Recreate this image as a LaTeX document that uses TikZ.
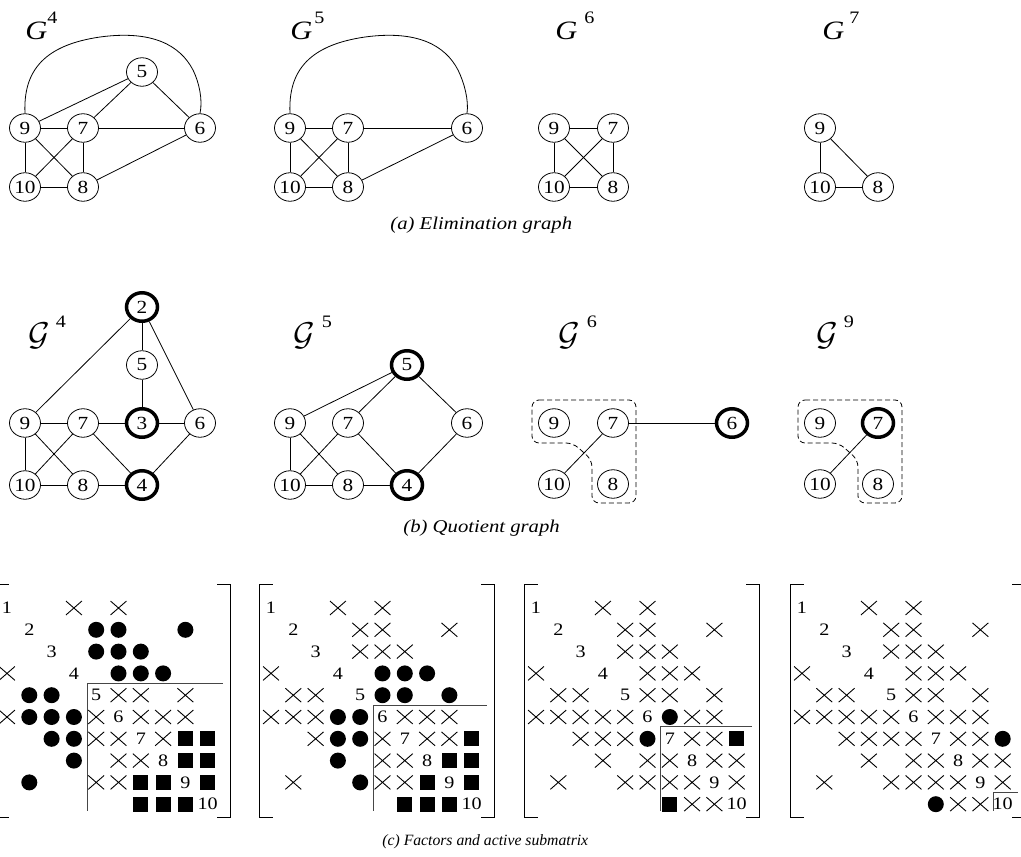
\documentclass[tikz,border=0pt]{standalone}
\usepackage{fontspec}
\setmainfont{Liberation Serif}[FakeStretch=1.15]
\newfontfamily\plainserif{Liberation Serif}
\usepackage{graphicx}
\usetikzlibrary{shapes.misc,shapes.geometric}
\definecolor{boxgray}{RGB}{70,70,70}
\newcommand{\nodefont}{\fontsize{18.5}{18.5}\selectfont}
\newcommand{\matfont}{\fontsize{17.5}{17.5}\selectfont}
\newcommand{\capfont}{\fontsize{18}{18}\selectfont\itshape}
\newcommand{\elimlbl}[2]{{\fontsize{26.5}{26.5}\selectfont\itshape G}\kern#1\raisebox{16pt}{\matfont #2}}
\newcommand{\quotlbl}[2]{\scalebox{3.3}{$\mathcal{G}$}\kern#1\raisebox{18pt}{\matfont #2}}

\begin{document}
\begin{tikzpicture}[x=1pt,y=-1pt,line width=.8pt,
  vtx/.style={ellipse,draw,minimum width=31pt,minimum height=28.5pt,inner sep=0pt,font=\nodefont},
  pivot/.style={vtx,line width=3.5pt},
  crs/.style={cross out,draw,line width=.9pt,minimum width=15pt,minimum height=13pt,inner sep=0pt},
  dotm/.style={circle,fill,minimum size=16pt,inner sep=0pt},
  sqm/.style={rectangle,fill,minimum size=15pt,inner sep=0pt},
  diag/.style={font=\matfont,inner sep=0pt},
  grp/.style={dash pattern=on 5pt off 3pt,rounded corners=7pt},
  lbl/.style={anchor=base west,inner sep=0pt},
  captxt/.style={font=\capfont,anchor=base west,inner sep=0pt}]
\useasboundingbox (0,0) rectangle (1021,857);

% (a) elimination graphs
\foreach \x/\y/\n in {25/128/9,83/128/7,200/128/6,142/72/5,25/187/10,83/187/8}
  \node[vtx] (a4n\n) at (\x,\y) {\n};
\foreach \u/\v in {9/5,7/5,5/6,9/7,7/6,9/10,9/8,7/10,7/8,10/8,8/6}
  \draw (a4n\u) -- (a4n\v);
\draw (a4n9.north) .. controls (23,70) and (45,45) .. (100,37)
  .. controls (152,30) and (180,45) .. (193,70) .. controls (199,82) and (203,100) .. (a4n6.north);
\node[lbl] (a4lbl) at (25,39) {\elimlbl{0pt}{4}};

\foreach \x/\y/\n in {290/128/9,348/128/7,467/128/6,290/187/10,348/187/8}
  \node[vtx] (a5n\n) at (\x,\y) {\n};
\foreach \u/\v in {9/7,7/6,9/10,9/8,7/10,7/8,10/8,8/6}
  \draw (a5n\u) -- (a5n\v);
\draw (a5n9.north) .. controls (288,70) and (310,45) .. (365,37)
  .. controls (417,30) and (445,45) .. (458,70) .. controls (464,82) and (469,100) .. (a5n6.north);
\node[lbl] (a5lbl) at (290,39) {\elimlbl{2pt}{5}};

\foreach \x/\y/\n in {554/128/9,613/128/7,554/187/10,613/187/8}
  \node[vtx] (a6n\n) at (\x,\y) {\n};
\foreach \u/\v in {9/7,9/10,9/8,7/10,7/8,10/8}
  \draw (a6n\u) -- (a6n\v);
\node[lbl] (a6lbl) at (555,39) {\elimlbl{7pt}{6}};

\foreach \x/\y/\n in {820/128/9,820/187/10,878/187/8}
  \node[vtx] (a7n\n) at (\x,\y) {\n};
\foreach \u/\v in {9/10,9/8,10/8}
  \draw (a7n\u) -- (a7n\v);
\node[lbl] (a7lbl) at (822,39) {\elimlbl{5pt}{7}};

\node[captxt] (capa) at (390,229) {(a) Elimination graph};

% (b) quotient graphs, elements drawn thick
\foreach \x/\y/\n in {142/365/5,25/423/9,83/423/7,200/423/6,25/485/10,83/485/8}
  \node[vtx] (b4n\n) at (\x,\y) {\n};
\foreach \x/\y/\n in {142/307/2,142/423/3,142/485/4}
  \node[pivot] (b4n\n) at (\x,\y) {\n};
\foreach \u/\v in {2/9,2/5,2/6,5/3,9/7,7/3,3/6,9/10,9/8,7/10,7/4,6/4,10/8,8/4}
  \draw (b4n\u) -- (b4n\v);
\node[lbl] (b4lbl) at (28,345) {\quotlbl{6pt}{4}};

\foreach \x/\y/\n in {290/423/9,348/423/7,467/423/6,290/485/10,348/485/8}
  \node[vtx] (b5n\n) at (\x,\y) {\n};
\foreach \x/\y/\n in {407/365/5,407/485/4}
  \node[pivot] (b5n\n) at (\x,\y) {\n};
\foreach \u/\v in {5/9,5/7,5/6,9/10,9/8,7/10,7/4,6/4,10/8,8/4}
  \draw (b5n\u) -- (b5n\v);
\node[lbl] (b5lbl) at (293,345) {\quotlbl{7pt}{5}};

\foreach \x/\y/\n in {554/423/9,613/423/7,554/484/10,613/484/8}
  \node[vtx] (b6n\n) at (\x,\y) {\n};
\node[pivot] (b6n6) at (732,423) {6};
\draw (b6n7) -- (b6n6);
\draw (b6n7) -- (b6n10);
\draw[grp] (532,400) -- (636,400) -- (636,503) -- (592,503) -- (592,460) -- (573,443) -- (532,443) -- cycle;
\node[lbl] (b6lbl) at (558,345) {\quotlbl{7pt}{6}};

\foreach \x/\y/\n in {820/423/9,820/484/10,878/484/8}
  \node[vtx] (b9n\n) at (\x,\y) {\n};
\node[pivot] (b9n7) at (878,423) {7};
\draw (b9n7) -- (b9n10);
\draw[grp] (798,400) -- (902,400) -- (902,503) -- (858,503) -- (858,460) -- (839,443) -- (798,443) -- cycle;
\node[lbl] (b9lbl) at (816,345) {\quotlbl{6pt}{9}};

\node[captxt] (capb) at (403,532) {(b) Quotient graph};

% (c) brackets, diagonal and active submatrix
\foreach \k/\ox/\s in {1/7/5,2/271/6,3/536/7,4/802/10}{
\begin{scope}[shift={(\ox-22.3,586.2)},x=22.3pt,y=-21.8pt]
  \foreach \i in {1,...,10}
    \node[diag] (m\k-d\i) at (\i,\i) {\i};
  \draw (1.08,-0.1) -- (0.5,-0.1) -- (0.5,10.6) -- (1.08,10.6);
  \draw (10.42,-0.1) -- (11,-0.1) -- (11,10.6) -- (10.42,10.6);
  \draw[boxgray] (\s-0.4,10.3) |- (10.7,\s-0.55);
\end{scope}}

% matrix 1
\begin{scope}[shift={(-15.3,586.2)},x=22.3pt,y=-21.8pt]
\foreach \r/\c in {1/4,1/6,4/1,5/6,5/7,5/9,6/1,6/5,6/7,6/8,6/9,7/5,7/6,7/8,8/6,8/7,9/5,9/6}
  \node[crs] (m1x\r-\c) at (\c,\r) {};
\foreach \r/\c in {2/5,2/6,2/9,3/5,3/6,3/7,4/6,4/7,4/8,5/2,5/3,6/2,6/3,6/4,7/3,7/4,8/4,9/2}
  \node[dotm] (m1o\r-\c) at (\c,\r) {};
\foreach \r/\c in {7/9,7/10,8/9,8/10,9/7,9/8,9/10,10/7,10/8,10/9}
  \node[sqm] (m1s\r-\c) at (\c,\r) {};
\end{scope}

% matrix 2
\begin{scope}[shift={(248.7,586.2)},x=22.3pt,y=-21.8pt]
\foreach \r/\c in {1/4,1/6,2/5,2/6,2/9,3/5,3/6,3/7,4/1,5/2,5/3,6/1,6/2,6/3,6/7,6/8,6/9,7/3,7/6,7/8,7/9,8/6,8/7,9/2,9/6,9/7}
  \node[crs] (m2x\r-\c) at (\c,\r) {};
\foreach \r/\c in {4/6,4/7,4/8,5/6,5/7,5/9,6/4,6/5,7/4,7/5,8/4,9/5}
  \node[dotm] (m2o\r-\c) at (\c,\r) {};
\foreach \r/\c in {7/10,8/9,8/10,9/8,9/10,10/7,10/8,10/9}
  \node[sqm] (m2s\r-\c) at (\c,\r) {};
\end{scope}

% matrix 3
\begin{scope}[shift={(513.7,586.2)},x=22.3pt,y=-21.8pt]
\foreach \r/\c in {1/4,1/6,2/5,2/6,2/9,3/5,3/6,3/7,4/1,4/6,4/7,4/8,5/2,5/3,5/6,5/7,5/9,6/1,6/2,6/3,6/4,6/5,6/8,6/9,7/3,7/4,7/5,7/8,7/9,8/4,8/6,8/7,8/9,8/10,9/2,9/5,9/6,9/7,9/8,9/10,10/8,10/9}
  \node[crs] (m3x\r-\c) at (\c,\r) {};
\foreach \r/\c in {6/7,7/6}
  \node[dotm] (m3o\r-\c) at (\c,\r) {};
\foreach \r/\c in {7/10,10/7}
  \node[sqm] (m3s\r-\c) at (\c,\r) {};
\end{scope}

% matrix 4
\begin{scope}[shift={(779.7,586.2)},x=22.3pt,y=-21.8pt]
\foreach \r/\c in {1/4,1/6,2/5,2/6,2/9,3/5,3/6,3/7,4/1,4/6,4/7,4/8,5/2,5/3,5/6,5/7,5/9,6/1,6/2,6/3,6/4,6/5,6/7,6/8,6/9,7/3,7/4,7/5,7/6,7/8,7/9,8/4,8/6,8/7,8/9,8/10,9/2,9/5,9/6,9/7,9/8,9/10,10/8,10/9}
  \node[crs] (m4x\r-\c) at (\c,\r) {};
\foreach \r/\c in {7/10,10/7}
  \node[dotm] (m4o\r-\c) at (\c,\r) {};
\end{scope}

\node[captxt,font=\plainserif\fontsize{15.7}{15.7}\selectfont\itshape] (capc) at (382,845) {(c) Factors and active submatrix};
\end{tikzpicture}
\end{document}
